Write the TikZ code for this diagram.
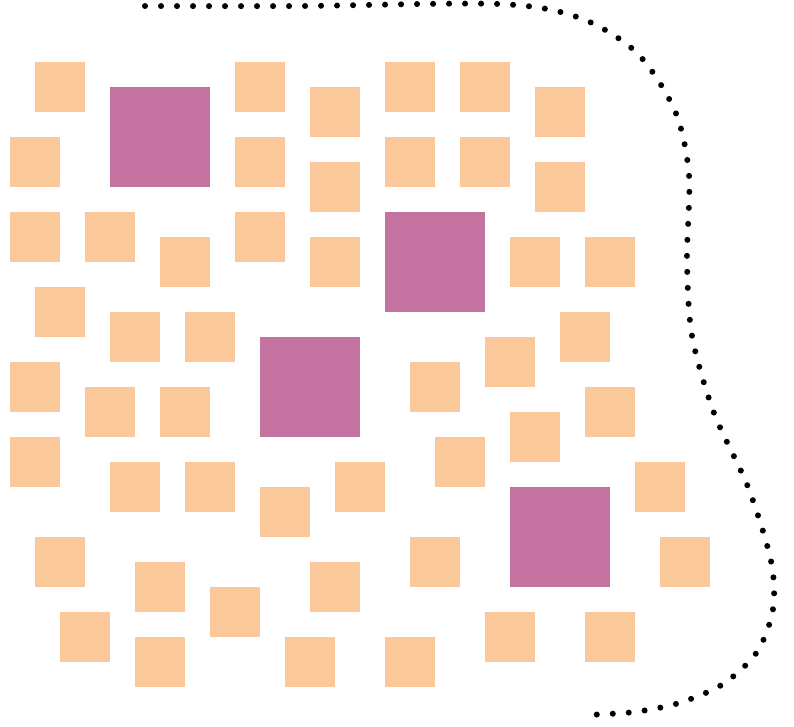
\documentclass[tikz,border=0pt]{standalone}
\definecolor{peach}{RGB}{251,200,156}
\definecolor{mauve}{RGB}{196,114,160}
\tikzset{
	small/.style = {fill = peach, minimum size = 1.25cm, inner sep = 0pt, anchor = north west},
	big/.style = {fill = mauve, minimum size = 2.5cm, inner sep = 0pt, anchor = north west},
	edge/.style = {line width = 0.15cm, line cap = round, dash pattern = on 0pt off 0.4cm}
}
\begin{document}
\begin{tikzpicture} [x = 0.025cm, y = -0.025cm]
	\useasboundingbox (0,0) rectangle (794,726);
	\foreach \x/\y [count = \i] in {35/62, 235/62, 310/87, 385/62, 460/62, 535/87,
		10/137, 235/137, 310/162, 385/137, 460/137, 535/162,
		10/212, 85/212, 160/237, 235/212, 310/237, 510/237, 585/237,
		35/287, 110/312, 185/312, 485/337, 560/312,
		10/362, 410/362, 85/387, 160/387, 585/387, 510/412,
		10/437, 435/437, 110/462, 185/462, 335/462, 635/462, 260/487,
		35/537, 410/537, 660/537, 135/562, 310/562, 210/587,
		60/612, 485/612, 585/612, 135/637, 285/637, 385/637}
		\node [small] (s\i) at (\x,\y) {};
	\node [big] (b1) at (110,87) {};
	\node [big] (b2) at (385,212) {};
	\node [big] (b3) at (260,337) {};
	\node [big] (b4) at (510,487) {};
	% boundary
	\draw [edge] plot [smooth] coordinates {(145,6) (300,6) (500,4) (580,18) (637,53) (675,111) (689,175) (687,260) (692,336) (714,413) (748,487) (771,561) (773,609) (757,652) (723,684) (679,703) (634,712) (586,715)};
\end{tikzpicture}
\end{document}
